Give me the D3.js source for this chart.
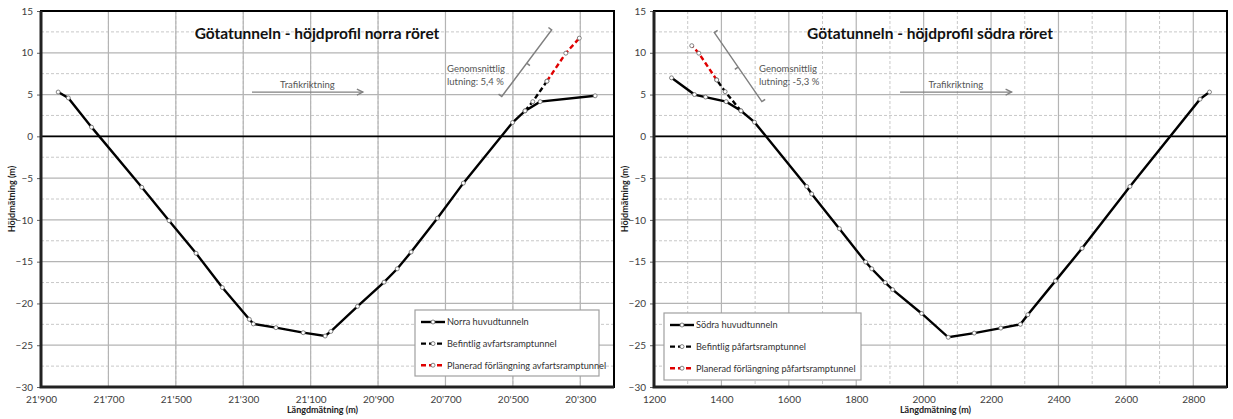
<!DOCTYPE html>
<html>
<head>
<meta charset="utf-8">
<script src="https://cdn.jsdelivr.net/npm/d3@7"></script>
<style>
  body { margin: 0; background: #fff; }
  text { font-family: Lato, "Open Sans", sans-serif; }
</style>
</head>
<body>
<svg id="chart" width="1233" height="419"></svg>
<script>
// --- data ---
const norraMain = [[21849,5.3],[21819,4.6],[21750,1.1],[21601,-6.1],[21520,-10.1],[21440,-14.0],[21362,-18.1],
  [21282,-21.9],[21270,-22.45],[21203,-22.9],[21122,-23.5],[21057,-23.9],[21040,-23.35],[20961,-20.35],
  [20882,-17.45],[20843,-15.85],[20802,-13.85],[20724,-9.8],[20647,-5.6],[20501,1.65],[20464,3.05],
  [20419,4.15],[20256,4.85]];
const norraExisting = [[20464,3.05],[20441,4.15],[20399,6.6]];
const norraPlanned = [[20399,6.6],[20343,9.95],[20303,11.75]];

const sodraMain = [[1252,7.0],[1320,5.0],[1353,4.7],[1414,4.15],[1458,3.05],[1498,1.7],[1653,-6.0],[1668,-6.9],
  [1750,-11.05],[1828,-15.05],[1846,-15.85],[1886,-17.5],[1908,-18.35],[1994,-21.2],[2073,-24.05],
  [2150,-23.55],[2229,-22.95],[2287,-22.5],[2309,-21.35],[2391,-17.3],[2470,-13.4],[2612,-6.0],
  [2820,4.45],[2848,5.3]];
const sodraExisting = [[1458,3.05],[1411,5.35],[1386,6.75]];
const sodraPlanned = [[1386,6.75],[1333,9.95],[1312,10.85]];

const yTicks = [15, 10, 5, 0, -5, -10, -15, -20, -25, -30];
const norraXTicks = [21900, 21700, 21500, 21300, 21100, 20900, 20700, 20500, 20300];
const sodraXTicks = [1200, 1400, 1600, 1800, 2000, 2200, 2400, 2600, 2800];

const norraLegend = ["Norra huvudtunneln", "Befintlig avfartsramptunnel", "Planerad förlängning avfartsramptunnel"];
const sodraLegend = ["Södra huvudtunneln", "Befintlig påfartsramptunnel", "Planerad förlängning påfartsramptunnel"];

const svg = d3.select("#chart");

function drawChart(cfg) {
  const g = svg.append("g");
  const x = d3.scaleLinear().domain(cfg.xDomain).range([cfg.left, cfg.right]);
  const y = d3.scaleLinear().domain([-30, 15]).range([387, 11]);

  // minor grid (dashed)
  const xMinor = d3.range(Math.min(...cfg.xDomain) + 100, Math.max(...cfg.xDomain), 200);
  g.selectAll(".xminor").data(xMinor).enter().append("line")
    .attr("x1", d => x(d)).attr("x2", d => x(d)).attr("y1", y(15)).attr("y2", y(-30))
    .attr("stroke", "#c8c8c8").attr("stroke-dasharray", "3,2").attr("stroke-width", 1);
  g.selectAll(".yminor").data(d3.range(-27.5, 15, 5)).enter().append("line")
    .attr("x1", cfg.left).attr("x2", cfg.right).attr("y1", d => y(d)).attr("y2", d => y(d))
    .attr("stroke", "#c8c8c8").attr("stroke-dasharray", "3,2").attr("stroke-width", 1);

  // major grid
  g.selectAll(".xmajor").data(cfg.xTicks).enter().append("line")
    .attr("x1", d => x(d)).attr("x2", d => x(d)).attr("y1", y(15)).attr("y2", y(-30))
    .attr("stroke", "#b4b4b4").attr("stroke-width", 1.2);
  g.selectAll(".ymajor").data(yTicks).enter().append("line")
    .attr("x1", cfg.left).attr("x2", cfg.right).attr("y1", d => y(d)).attr("y2", d => y(d))
    .attr("stroke", "#b4b4b4").attr("stroke-width", 1.2);

  // zero line
  g.append("line").attr("x1", cfg.left).attr("x2", cfg.right).attr("y1", y(0)).attr("y2", y(0))
    .attr("stroke", "#000").attr("stroke-width", 1.6);

  // axes
  const yAxis = d3.axisLeft(y).tickValues(yTicks).tickSize(4).tickPadding(4);
  const ya = g.append("g").attr("transform", `translate(${cfg.left},0)`).call(yAxis);
  const xAxis = d3.axisBottom(x).tickValues(cfg.xTicks).tickSize(0).tickPadding(9).tickFormat(cfg.xFormat);
  const xa = g.append("g").attr("transform", `translate(0,${y(-30)})`).call(xAxis);
  [ya, xa].forEach(a => {
    a.select(".domain").remove();
    a.selectAll("text").attr("font-size", 10).attr("fill", "#404040").style("font-family", "Lato, sans-serif");
    a.selectAll("line").attr("stroke", "#606060");
  });

  // frame
  g.append("rect").attr("x", cfg.left).attr("y", y(15))
    .attr("width", cfg.right - cfg.left).attr("height", y(-30) - y(15))
    .attr("fill", "none").attr("stroke", "#000").attr("stroke-width", 2);
  g.append("path").attr("d", `M${cfg.left},${y(15)}V${y(-30)}H${cfg.right}`)
    .attr("fill", "none").attr("stroke", "#222").attr("stroke-width", 3);

  // axis titles
  g.append("text").attr("x", (cfg.left + cfg.right) / 2 - 5).attr("y", 413).attr("text-anchor", "middle")
    .attr("font-size", 9).attr("font-weight", "bold").attr("fill", "#222").text("Längdmätning (m)");
  g.append("text").attr("transform", `translate(${cfg.left - 26},199) rotate(-90)`).attr("text-anchor", "middle")
    .attr("font-size", 9).attr("font-weight", "bold").attr("fill", "#222").text("Höjdmätning (m)");

  // title
  g.append("text").attr("x", cfg.titleX).attr("y", 39).attr("text-anchor", "middle")
    .attr("font-size", 15.5).attr("font-weight", "bold").attr("fill", "#111").text(cfg.title);

  // traffic direction arrow
  const ay = y(cfg.arrow.y);
  g.append("line").attr("x1", x(cfg.arrow.x0)).attr("x2", x(cfg.arrow.x1)).attr("y1", ay).attr("y2", ay)
    .attr("stroke", "#808080").attr("stroke-width", 1.3);
  const ax = x(cfg.arrow.x1);
  g.append("path").attr("d", `M${ax - 6},${ay - 3}L${ax},${ay}L${ax - 6},${ay + 3}`)
    .attr("fill", "none").attr("stroke", "#808080").attr("stroke-width", 1.3);
  g.append("text").attr("x", (x(cfg.arrow.x0) + x(cfg.arrow.x1)) / 2).attr("y", ay - 4)
    .attr("text-anchor", "middle").attr("font-size", 9.5).attr("fill", "#555").text("Trafikriktning");

  // slope bracket
  const b = cfg.bracket;
  const p0 = [x(b.x0), y(b.y0)], p1 = [x(b.x1), y(b.y1)];
  const dx = p1[0] - p0[0], dy = p1[1] - p0[1], len = Math.hypot(dx, dy);
  const nx = -dy / len * b.side, ny = dx / len * b.side;
  const pm = [(p0[0] + p1[0]) / 2, (p0[1] + p1[1]) / 2];
  g.append("path")
    .attr("d", `M${p0[0] + nx * 4},${p0[1] + ny * 4}L${p0[0]},${p0[1]}L${p1[0]},${p1[1]}L${p1[0] + nx * 4},${p1[1] + ny * 4}` +
      `M${pm[0]},${pm[1]}L${pm[0] - nx * 4},${pm[1] - ny * 4}`)
    .attr("fill", "none").attr("stroke", "#7f7f7f").attr("stroke-width", 1.5);
  const tt = g.append("text").attr("font-size", 9.5).attr("fill", "#555");
  tt.append("tspan").attr("x", b.textX).attr("y", 72).text("Genomsnittlig");
  tt.append("tspan").attr("x", b.textX).attr("y", 85).text(b.label);

  // series
  const line = d3.line().x(d => x(d[0])).y(d => y(d[1]));
  const series = [
    {data: cfg.main, color: "#000", dash: null},
    {data: cfg.existing, color: "#000", dash: "5,3"},
    {data: cfg.planned, color: "#e00000", dash: "5,3"}
  ];
  series.forEach(s => {
    g.append("path").datum(s.data).attr("d", line).attr("fill", "none")
      .attr("stroke", s.color).attr("stroke-width", 2.4).attr("stroke-dasharray", s.dash);
  });
  series.forEach(s => {
    g.selectAll(null).data(s.data).enter().append("circle")
      .attr("cx", d => x(d[0])).attr("cy", d => y(d[1])).attr("r", 2)
      .attr("fill", "#fff").attr("stroke", "#666").attr("stroke-width", 0.8);
  });

  // legend
  const L = cfg.legend;
  g.append("rect").attr("x", L.x).attr("y", L.y).attr("width", L.w).attr("height", L.h)
    .attr("fill", "#fff").attr("stroke", "#a0a0a0").attr("stroke-width", 1.2);
  cfg.legendLabels.forEach((lab, i) => {
    const ry = L.y + 12 + i * 21.6;
    const s = series[i];
    g.append("line").attr("x1", L.x + 6).attr("x2", L.x + 30).attr("y1", ry).attr("y2", ry)
      .attr("stroke", s.color).attr("stroke-width", 2.4).attr("stroke-dasharray", s.dash);
    g.append("circle").attr("cx", L.x + 18).attr("cy", ry).attr("r", 2)
      .attr("fill", "#fff").attr("stroke", "#666").attr("stroke-width", 0.8);
    g.append("text").attr("x", L.x + 32).attr("y", ry + 3.3).attr("font-size", 9.2).attr("fill", "#333").text(lab);
  });
}

drawChart({
  left: 41, right: 614, xDomain: [21900, 20200], xTicks: norraXTicks,
  xFormat: d => d3.format(",")(d).replace(",", "'"),
  title: "Götatunneln - höjdprofil norra röret", titleX: 317,
  arrow: {x0: 21274, x1: 20945, y: 5.3},
  bracket: {x0: 20533, y0: 4.76, x1: 20385, y1: 12.74, side: -1, textX: 447, label: "lutning: 5,4 %"},
  main: norraMain, existing: norraExisting, planned: norraPlanned,
  legend: {x: 415, y: 310, w: 184, h: 66}, legendLabels: norraLegend
});

drawChart({
  left: 654, right: 1227, xDomain: [1200, 2900], xTicks: sodraXTicks,
  xFormat: d3.format("d"),
  title: "Götatunneln - höjdprofil södra röret", titleX: 930,
  arrow: {x0: 1930, x1: 2261, y: 5.3},
  bracket: {x0: 1379, y0: 12.42, x1: 1520, y1: 4.16, side: -1, textX: 759, label: "lutning: -5,3 %"},
  main: sodraMain, existing: sodraExisting, planned: sodraPlanned,
  legend: {x: 664, y: 313, w: 197, h: 67}, legendLabels: sodraLegend
});
</script>
</body>
</html>
